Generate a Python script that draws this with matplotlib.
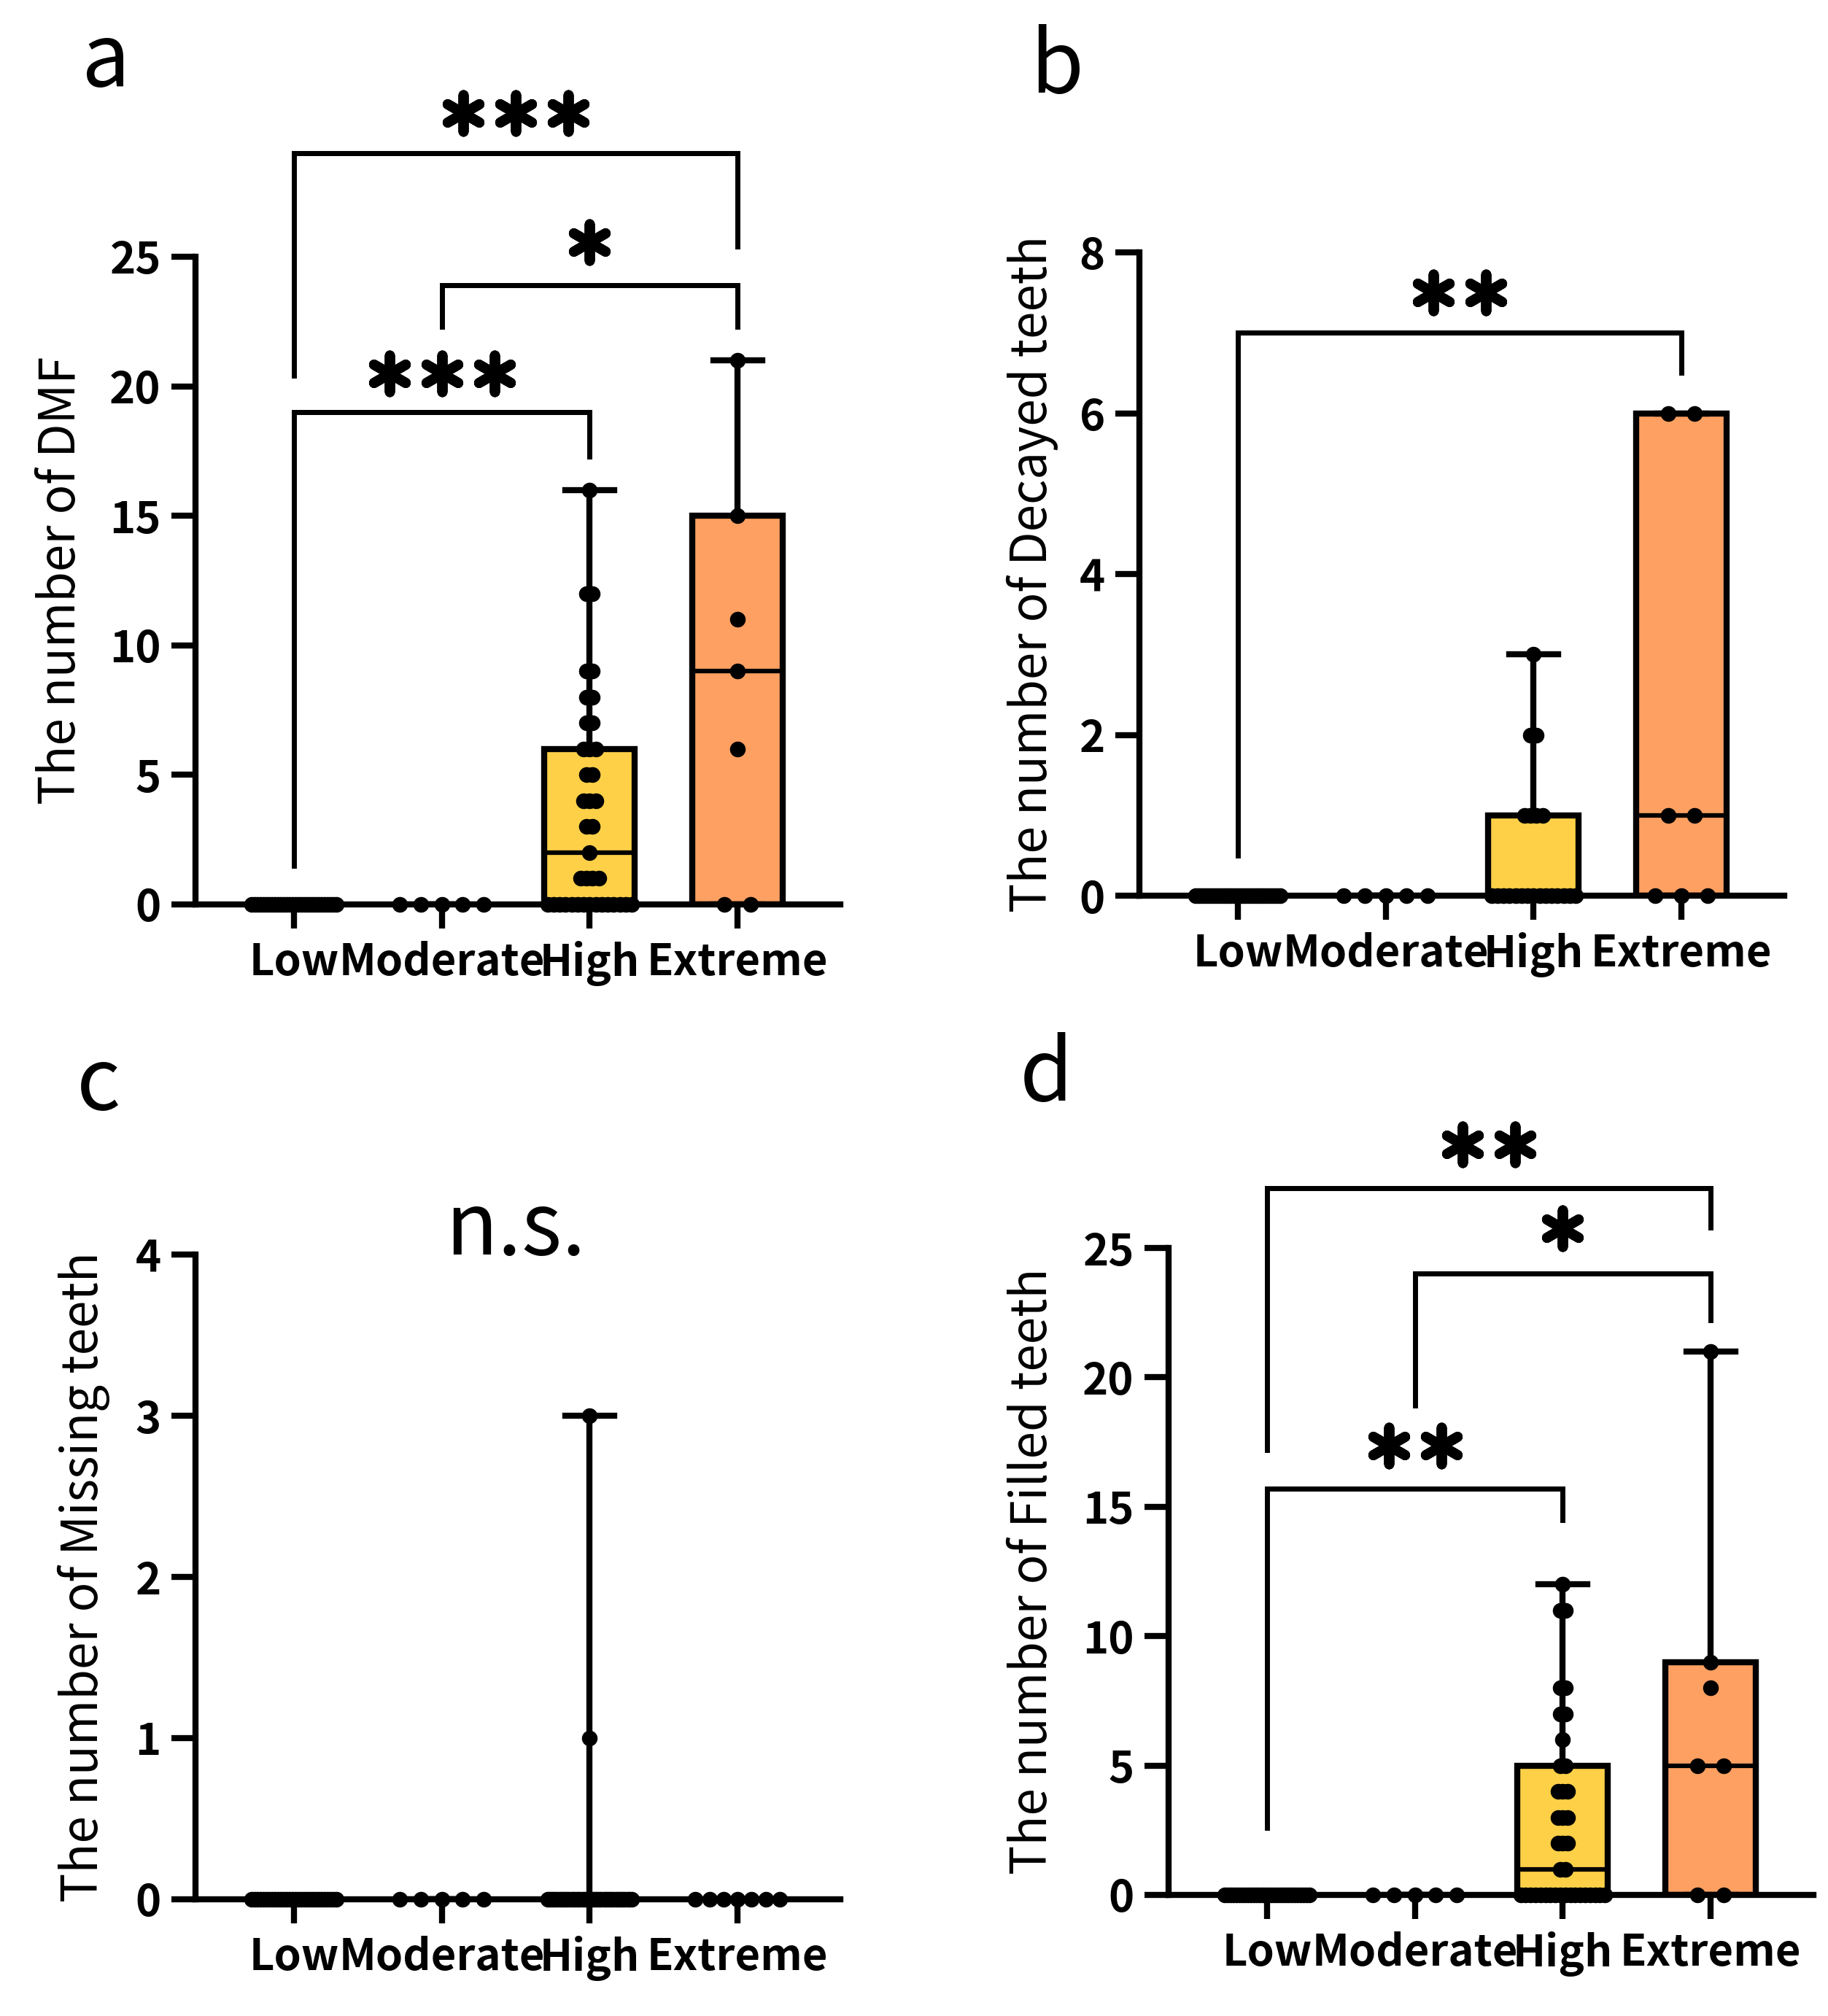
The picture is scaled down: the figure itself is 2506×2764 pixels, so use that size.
import numpy as np
import matplotlib
matplotlib.use('Agg')
from matplotlib import pyplot as plt

plt.rcParams['font.family'] = ['Noto Sans CJK JP', 'DejaVu Sans']

groups = ['Low', 'Moderate', 'High', 'Extreme']
fills = ['white', 'white', '#FDD048', '#FDA062']

# values
dmf_low = [0] * 30
dmf_mod = [0] * 5
dmf_high = [0] * 15 + [1, 1, 1, 1, 2, 3, 3, 4, 4, 4, 5, 5, 6, 6, 6, 7, 7, 8, 8, 9, 9, 12, 12, 16]
dmf_ext = [0, 0, 6, 9, 11, 15, 21]

dec_low = [0] * 30
dec_mod = [0] * 5
dec_high = [0] * 15 + [1, 1, 1, 1, 2, 2, 3]
dec_ext = [0, 0, 0, 1, 1, 6, 6]

mis_low = [0] * 30
mis_mod = [0] * 5
mis_high = [0] * 37 + [1, 3]
mis_ext = [0] * 7

fil_low = [0] * 30
fil_mod = [0] * 5
fil_high = [0] * 18 + [1, 1, 2, 2, 2, 3, 3, 3, 4, 4, 4, 5, 5, 6, 7, 7, 8, 8, 11, 11, 12]
fil_ext = [0, 0, 5, 5, 8, 9, 21]

# (group1, group2, bar height, leg1 bottom, leg2 bottom, n stars, star height)
brackets_a = [(0, 3, 29.0, 20.4, 25.4, 3, 30.55),
              (1, 3, 23.9, 22.3, 22.3, 1, 25.55),
              (0, 2, 19.0, 1.5, 17.3, 3, 20.5)]
brackets_b = [(0, 3, 7.0, 0.5, 6.5, 2, 7.5)]
brackets_d = [(0, 3, 27.3, 17.2, 25.8, 2, 29.0),
              (1, 3, 24.0, 18.9, 22.2, 1, 25.75),
              (0, 2, 15.7, 2.6, 14.5, 2, 17.35)]

W, H = 2506, 2764
fig = plt.figure(figsize=(W / 100, H / 100), dpi=100)


def px_axes(x0, y0, ytop):
    # x0 = y-axis pixel column, y0 = pixel row of zero, ytop = pixel row of top tick
    return fig.add_axes([x0 / W, 1 - y0 / H, 884 / W, (y0 - ytop) / H])


def spread(vals, cap=0.178, span=0.57):
    vals = np.asarray(vals, dtype=float)
    uniq, counts = np.unique(vals, return_counts=True)
    m = counts.max()
    step = cap if m < 2 else min(cap, span / (m - 1))
    xs, ys = [], []
    for u, c in zip(uniq, counts):
        xs += list((np.arange(c) - (c - 1) / 2) * step)
        ys += [u] * c
    return np.array(xs), np.array(ys)


def box_stats(v):
    q1, med, q3 = np.percentile(v, [25, 50, 75], method='weibull')
    return dict(med=med, q1=q1, q3=q3, whislo=min(v), whishi=max(v), fliers=[])


def panel(ax, data, ylabel, yticks, labx):
    stats = [box_stats(v) for v in data]
    bp = ax.bxp(stats, positions=range(4), widths=0.61, capwidths=0.33,
                patch_artist=True, showfliers=False,
                boxprops=dict(linewidth=6, edgecolor='black'),
                medianprops=dict(color='black', linewidth=4.5),
                whiskerprops=dict(color='black', linewidth=6),
                capprops=dict(color='black', linewidth=6))
    for patch, c in zip(bp['boxes'], fills):
        patch.set_facecolor(c)
    for i, v in enumerate(data):
        dx, vy = spread(v)
        ax.scatter(i + dx, vy, s=240, color='black', zorder=5, clip_on=False, linewidths=0)
    ax.set_xlim(-0.665, 3.695)
    ax.set_ylim(yticks[0], yticks[-1])
    ax.set_yticks(yticks)
    ax.set_xticks(range(4))
    ax.set_xticklabels(groups, fontsize=43, fontweight='bold')
    for t in ax.get_yticklabels():
        t.set_fontsize(43)
        t.set_fontweight('bold')
    ax.spines['top'].set_visible(False)
    ax.spines['right'].set_visible(False)
    ax.spines['left'].set_linewidth(6)
    ax.spines['bottom'].set_linewidth(6)
    ax.tick_params(axis='both', length=24, width=6)
    ax.tick_params(axis='y', pad=10)
    ax.tick_params(axis='x', pad=12)
    ax.set_ylabel(ylabel, fontsize=48.5)
    ax.yaxis.set_label_coords(labx, 0.5)


def draw_brackets(ax, brackets):
    for g1, g2, y, b1, b2, n, sy in brackets:
        ax.plot([g1, g1, g2, g2], [b1, y, y, b2], color='black', linewidth=5,
                clip_on=False, solid_joinstyle='miter', zorder=3)
        xc = (g1 + g2) / 2
        xs = xc + (np.arange(n) - (n - 1) / 2) * 0.355
        ax.scatter(xs, [sy] * n, marker=(6, 2, 0), s=1300, linewidths=10,
                   color='black', clip_on=False, zorder=3)


ax_a = px_axes(268, 1240, 352)
panel(ax_a, [dmf_low, dmf_mod, dmf_high, dmf_ext], 'The number of DMF', [0, 5, 10, 15, 20, 25], -0.168)
draw_brackets(ax_a, brackets_a)

ax_b = px_axes(1562, 1228, 346)
panel(ax_b, [dec_low, dec_mod, dec_high, dec_ext], 'The number of Decayed teeth', [0, 2, 4, 6, 8], -0.126)
draw_brackets(ax_b, brackets_b)

ax_c = px_axes(268, 2604, 1720)
panel(ax_c, [mis_low, mis_mod, mis_high, mis_ext], 'The number of Missing teeth', [0, 1, 2, 3, 4], -0.132)
ax_c.text(1.5, 4.0, 'n.s.', fontsize=85, ha='center', va='baseline')

ax_d = px_axes(1602, 2598, 1711)
panel(ax_d, [fil_low, fil_mod, fil_high, fil_ext], 'The number of Filled teeth', [0, 5, 10, 15, 20, 25], -0.171)
draw_brackets(ax_d, brackets_d)

for letter, x, y in [('a', 112, 118), ('b', 1412, 127), ('c', 105, 1521), ('d', 1398, 1509)]:
    fig.text(x / W, 1 - y / H, letter, fontsize=85, ha='left', va='baseline')

fig.savefig('out.png', dpi=100, facecolor='white')
